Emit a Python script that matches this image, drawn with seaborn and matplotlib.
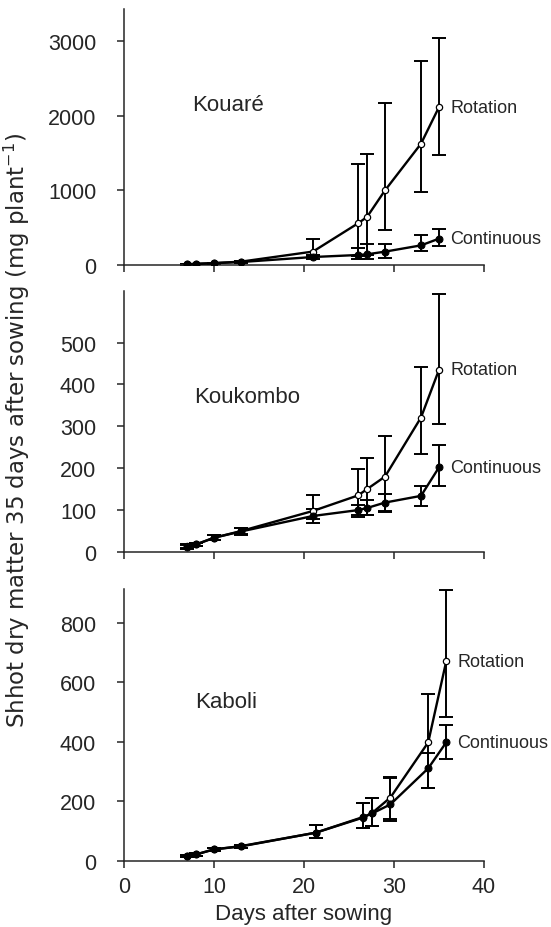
import matplotlib
matplotlib.use("Agg")
import matplotlib.pyplot as plt
import seaborn as sns
import pandas as pd
import numpy as np

# ---------------- data ----------------
days_a = [7, 8, 10, 13, 21, 26, 27, 29, 33, 35]
days_b = [7, 8, 10, 13, 21.3, 26.6, 27.6, 29.6, 33.8, 35.8]

kouare_rot = [10, 15, 25, 45, 180, 558, 643, 1000, 1625, 2116]
kouare_rot_low = [5, 10, 18, 35, 120, 120, 130, 464, 978, 1473]
kouare_rot_high = [15, 20, 32, 55, 345, 1357, 1487, 2174, 2728, 3040]
kouare_cont = [10, 15, 25, 40, 107, 134, 143, 179, 263, 353]
kouare_cont_low = [5, 10, 18, 30, 80, 85, 85, 98, 188, 254]
kouare_cont_high = [15, 20, 32, 50, 140, 232, 277, 286, 402, 487]

koukombo_rot = [14, 18, 34, 50, 98, 135, 150, 180, 321, 435]
koukombo_rot_low = [10, 15, 28, 42, 78, 84, 88, 98, 233, 305]
koukombo_rot_high = [18, 22, 40, 58, 135, 198, 224, 276, 441, 616]
koukombo_cont = [12, 18, 34, 49, 86, 100, 105, 118, 134, 202]
koukombo_cont_low = [8, 14, 28, 41, 70, 88, 88, 96, 110, 158]
koukombo_cont_high = [16, 22, 40, 57, 102, 111, 124, 138, 158, 256]

kaboli_rot = [17, 22, 39, 50, 95, 146, 162, 213, 398, 670]
kaboli_rot_low = [13, 18, 33, 45, 78, 112, 118, 142, 246, 484]
kaboli_rot_high = [21, 26, 45, 55, 120, 194, 213, 283, 560, 910]
kaboli_cont = [17, 22, 39, 49, 95, 148, 160, 190, 311, 398]
kaboli_cont_low = [13, 18, 33, 44, 78, 112, 118, 134, 246, 342]
kaboli_cont_high = [21, 26, 45, 54, 120, 194, 213, 278, 364, 456]

sites = ["Kouaré", "Koukombo", "Kaboli"]
series_names = ["Rotation", "Continuous"]
x_ticks = [0, 10, 20, 30, 40]
y_ticks = [[0, 1000, 2000, 3000], [0, 100, 200, 300, 400, 500], [0, 200, 400, 600, 800]]
y_lims = [3430, 623, 913]
site_label_pos = [(7.55, 2157), (7.8, 370), (7.9, 537)]

panels = [
    (days_a, kouare_rot, kouare_rot_low, kouare_rot_high, kouare_cont, kouare_cont_low, kouare_cont_high),
    (days_a, koukombo_rot, koukombo_rot_low, koukombo_rot_high, koukombo_cont, koukombo_cont_low, koukombo_cont_high),
    (days_b, kaboli_rot, kaboli_rot_low, kaboli_rot_high, kaboli_cont, kaboli_cont_low, kaboli_cont_high),
]

# ---------------- style ----------------
sns.set_style("ticks")
plt.rcParams["font.family"] = ["Liberation Sans", "DejaVu Sans"]
plt.rcParams["axes.linewidth"] = 1.1
plt.rcParams["xtick.major.width"] = 1.1
plt.rcParams["ytick.major.width"] = 1.1

W, H = 551, 928
fig = plt.figure(figsize=(W / 100, H / 100), dpi=100)

left = 124 / W
width = 360 / W
boxes = [(10, 266), (292, 553), (590, 862)]

for i, (days, r, rl, rh, c, cl, ch) in enumerate(panels):
    top, bot = boxes[i]
    ax = fig.add_axes([left, 1 - bot / H, width, (bot - top) / H])
    df = pd.DataFrame({
        "day": list(days) * 2,
        "value": list(r) + list(c),
        "series": [series_names[0]] * len(days) + [series_names[1]] * len(days),
    })
    # rotation (open circles)
    sns.lineplot(data=df[df.series == "Rotation"], x="day", y="value", ax=ax,
                 color="black", lw=1.7, marker="o", markersize=4.5,
                 markerfacecolor="white", markeredgecolor="black", markeredgewidth=0.9,
                 legend=False, zorder=3)
    # continuous (filled circles)
    sns.lineplot(data=df[df.series == "Continuous"], x="day", y="value", ax=ax,
                 color="black", lw=1.7, marker="o", markersize=5,
                 markerfacecolor="black", markeredgecolor="black",
                 legend=False, zorder=3)
    r_arr, c_arr = np.array(r), np.array(c)
    ax.errorbar(days, r_arr, yerr=[r_arr - np.array(rl), np.array(rh) - r_arr],
                fmt="none", ecolor="black", elinewidth=1.4, capsize=5, capthick=1.4, zorder=2)
    ax.errorbar(days, c_arr, yerr=[c_arr - np.array(cl), np.array(ch) - c_arr],
                fmt="none", ecolor="black", elinewidth=1.4, capsize=5, capthick=1.4, zorder=2)

    ax.set_xlim(0, 40)
    ax.set_ylim(0, y_lims[i])
    ax.set_xticks(x_ticks)
    ax.set_yticks(y_ticks[i])
    ax.set_yticklabels([str(v) for v in y_ticks[i]])
    if i == 2:
        ax.set_xticklabels([str(v) for v in x_ticks])
    else:
        ax.set_xticklabels([])
    ax.tick_params(axis="y", length=5, pad=15, labelsize=15.5)
    ax.tick_params(axis="x", length=5, pad=6, labelsize=15.5)
    ax.set_xlabel("")
    ax.set_ylabel("")
    sns.despine(ax=ax)

    ax.text(site_label_pos[i][0], site_label_pos[i][1], sites[i], fontsize=16,
            ha="left", va="center")
    ax.annotate("Rotation", xy=(days[-1], r[-1]), xytext=(8, 0), textcoords="offset points",
                fontsize=13, ha="left", va="center")
    ax.annotate("Continuous", xy=(days[-1], c[-1]), xytext=(8, 0), textcoords="offset points",
                fontsize=13, ha="left", va="center")

fig.text(304 / W, 1 - 915 / H, "Days after sowing", fontsize=16, ha="center", va="center")
fig.text(17 / W, 1 - 431 / H, "Shhot dry matter 35 days after sowing (mg plant$^{-1}$)",
         fontsize=16.5, rotation=90, ha="center", va="center",
         family=["DejaVu Sans"])

fig.savefig("out.png", dpi=100)
